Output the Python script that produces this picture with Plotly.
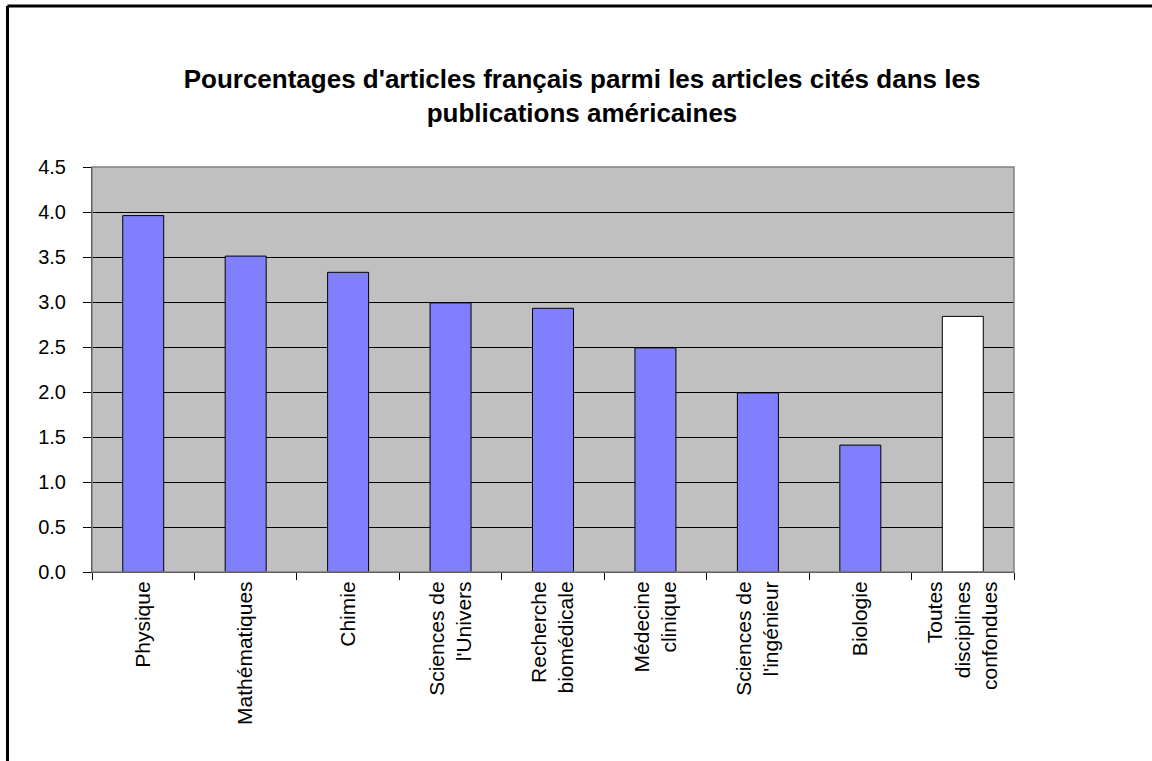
import plotly.graph_objects as go

# Share of French articles among articles cited in American publications (%)
categories = [
    "Physique",
    "Mathématiques",
    "Chimie",
    "Sciences de<br>l'Univers",
    "Recherche<br>biomédicale",
    "Médecine<br>clinique",
    "Sciences de<br>l'ingénieur",
    "Biologie",
    "Toutes<br>disciplines<br>confondues",
]
values = [3.96, 3.51, 3.33, 2.99, 2.93, 2.49, 1.99, 1.41, 2.84]
bar_colors = ["#8080FF"] * 8 + ["#FFFFFF"]

y_ticks = [0.0, 0.5, 1.0, 1.5, 2.0, 2.5, 3.0, 3.5, 4.0, 4.5]

W, H = 1152, 761
L, R, T, B = 92, 138, 167, 189

fig = go.Figure(
    go.Bar(
        x=categories,
        y=values,
        marker=dict(color=bar_colors, line=dict(color="#000000", width=1)),
        hoverinfo="x+y",
    )
)

# outer chart frame (left and top edges), in paper units
pw, ph = W - L - R, H - T - B
fx = (7.5 - L) / pw
fy = (H - B - 6) / ph
fy_bottom = (H - B - H) / ph

fig.update_layout(
    width=W,
    height=H,
    margin=dict(l=L, r=R, t=T, b=B),
    paper_bgcolor="#FFFFFF",
    plot_bgcolor="#C0C0C0",
    showlegend=False,
    bargap=0.6,
    font=dict(family="Liberation Sans, Arial, sans-serif", color="#000000"),
    title=dict(
        text="<b>Pourcentages d'articles français parmi les articles cités dans les<br>publications américaines</b>",
        x=582 / W,
        xref="container",
        xanchor="center",
        y=1 - 88 / H,
        yanchor="middle",
        font=dict(size=26, color="#000000"),
    ),
    shapes=[
        dict(type="line", xref="paper", yref="paper", x0=fx, x1=(W - L) / pw,
             y0=fy, y1=fy, line=dict(color="#000000", width=3)),
        dict(type="line", xref="paper", yref="paper", x0=fx, x1=fx,
             y0=fy_bottom, y1=fy, line=dict(color="#000000", width=3)),
        dict(type="rect", xref="paper", yref="paper", x0=0, x1=1, y0=0, y1=1,
             line=dict(color="#808080", width=1.5), layer="above"),
    ],
)

fig.update_xaxes(
    type="category",
    tickangle=-90,
    tickson="boundaries",
    ticks="outside",
    ticklen=7,
    tickcolor="#000000",
    showline=True,
    linecolor="#000000",
    linewidth=1,
    showgrid=False,
    tickfont=dict(size=21, color="#000000"),
)

fig.update_yaxes(
    range=[0, 4.5],
    tickvals=y_ticks,
    ticktext=[f"{v:.1f}" for v in y_ticks],
    ticks="outside",
    ticklen=8,
    tickcolor="#000000",
    showline=True,
    linecolor="#000000",
    linewidth=1,
    showgrid=True,
    gridcolor="#000000",
    gridwidth=1,
    zeroline=False,
    ticklabelstandoff=13,
    tickfont=dict(size=20, color="#000000"),
)

fig.write_html("out.html")
